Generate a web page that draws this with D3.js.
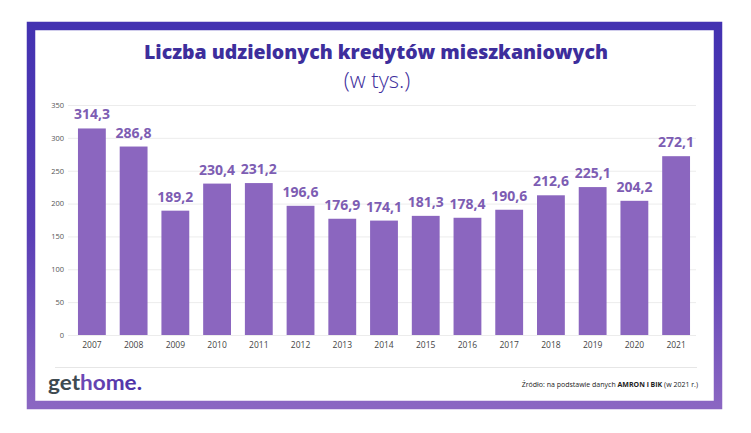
<!DOCTYPE html>
<html>
<head>
<meta charset="utf-8">
<script src="https://cdn.jsdelivr.net/npm/d3@7"></script>
<style>
  body { margin: 0; background: #fff; }
  svg { display: block; font-family: "Open Sans", "Noto Sans", sans-serif; }
</style>
</head>
<body>
<div id="chart"></div>
<script>
// data
var years = ["2007", "2008", "2009", "2010", "2011", "2012", "2013", "2014", "2015", "2016", "2017", "2018", "2019", "2020", "2021"];
var credits = [314.3, 286.8, 189.2, 230.4, 231.2, 196.6, 176.9, 174.1, 181.3, 178.4, 190.6, 212.6, 225.1, 204.2, 272.1];
var yTicks = [0, 50, 100, 150, 200, 250, 300, 350];

var width = 751, height = 433;

var svg = d3.select("#chart").append("svg")
    .attr("width", width)
    .attr("height", height);

// frame gradient
var defs = svg.append("defs");
var grad = defs.append("linearGradient")
    .attr("id", "frameGrad")
    .attr("x1", 0).attr("y1", 0).attr("x2", 0).attr("y2", 1);
grad.append("stop").attr("offset", "0%").attr("stop-color", "#4332b1");
grad.append("stop").attr("offset", "55%").attr("stop-color", "#5a3fb6");
grad.append("stop").attr("offset", "100%").attr("stop-color", "#8a66c2");

var logoGrad = defs.append("linearGradient")
    .attr("id", "logoGrad")
    .attr("x1", 0).attr("y1", 0).attr("x2", 1).attr("y2", 0);
logoGrad.append("stop").attr("offset", "0%").attr("stop-color", "#7f55bd");
logoGrad.append("stop").attr("offset", "100%").attr("stop-color", "#4a30a6");

svg.append("rect")
    .attr("x", 31).attr("y", 26)
    .attr("width", 687).attr("height", 379)
    .attr("fill", "#fff")
    .attr("stroke", "url(#frameGrad)")
    .attr("stroke-width", 8.5);

// title
svg.append("text")
    .attr("x", 376).attr("y", 59)
    .attr("text-anchor", "middle")
    .attr("font-size", 20)
    .attr("font-weight", 800)
    .attr("fill", "#3d2e9c")
    .attr("textLength", 464)
    .attr("lengthAdjust", "spacingAndGlyphs")
    .text("Liczba udzielonych kredytów mieszkaniowych");

svg.append("text")
    .attr("x", 377).attr("y", 88)
    .attr("text-anchor", "middle")
    .attr("font-size", 22)
    .attr("font-weight", 300)
    .attr("fill", "#3d2e9c")
    .text("(w tys.)");

// scales
var x = d3.scaleBand()
    .domain(years)
    .range([71, 697])
    .paddingInner(0.333)
    .paddingOuter(0.167);

var y = d3.scaleLinear()
    .domain([0, 350])
    .range([335, 105]);

// gridlines
svg.append("g")
    .selectAll("line")
    .data(yTicks)
    .enter()
    .append("line")
    .attr("x1", 68).attr("x2", 696)
    .attr("y1", function (d) { return y(d) + 0.5; })
    .attr("y2", function (d) { return y(d) + 0.5; })
    .attr("stroke", "#ececec")
    .attr("stroke-width", 1);

// y axis labels
var yAxis = svg.append("g")
    .attr("transform", "translate(66,0)")
    .call(d3.axisLeft(y).tickValues(yTicks).tickSize(0).tickPadding(2));
yAxis.select(".domain").remove();
yAxis.selectAll("text")
    .attr("font-size", 7.5)
    .attr("fill", "#555")
    .attr("font-family", "Open Sans, sans-serif");

// x axis labels
var xAxis = svg.append("g")
    .attr("transform", "translate(0,337)")
    .call(d3.axisBottom(x).tickSize(0).tickPadding(5));
xAxis.select(".domain").remove();
xAxis.selectAll("text")
    .attr("font-size", 8.5)
    .attr("fill", "#444")
    .attr("font-family", "Open Sans, sans-serif");

// bars
svg.append("g")
    .selectAll("rect")
    .data(credits)
    .enter()
    .append("rect")
    .attr("x", function (d, i) { return x(years[i]); })
    .attr("y", function (d) { return y(d); })
    .attr("width", x.bandwidth())
    .attr("height", function (d) { return y(0) - y(d); })
    .attr("fill", "#8b66bf");

// value labels
var fmt = d3.format(".1f");
svg.append("g")
    .selectAll("text")
    .data(credits)
    .enter()
    .append("text")
    .attr("x", function (d, i) { return x(years[i]) + x.bandwidth() / 2; })
    .attr("y", function (d) { return y(d) - 9; })
    .attr("text-anchor", "middle")
    .attr("font-size", 14)
    .attr("font-weight", 700)
    .attr("fill", "#7d5db3")
    .text(function (d) { return fmt(d).replace(".", ","); });

// separator
svg.append("line")
    .attr("x1", 55).attr("x2", 697)
    .attr("y1", 367.5).attr("y2", 367.5)
    .attr("stroke", "#e6e6e6")
    .attr("stroke-width", 1);

// logo
var logo = svg.append("text")
    .attr("x", 48).attr("y", 390)
    .attr("font-size", 20)
    .attr("font-weight", 700)
    .attr("font-family", "Lato, sans-serif")
    .attr("textLength", 94)
    .attr("lengthAdjust", "spacingAndGlyphs");
logo.append("tspan").attr("fill", "#3e4a50").text("get");
logo.append("tspan").attr("fill", "url(#logoGrad)").text("home.");

// source
var src = svg.append("text")
    .attr("x", 698).attr("y", 387)
    .attr("text-anchor", "end")
    .attr("font-size", 7)
    .attr("fill", "#222");
src.append("tspan").text("Źródło: na podstawie danych ");
src.append("tspan").attr("font-weight", 700).text("AMRON i BIK");
src.append("tspan").text(" (w 2021 r.)");
</script>
</body>
</html>
